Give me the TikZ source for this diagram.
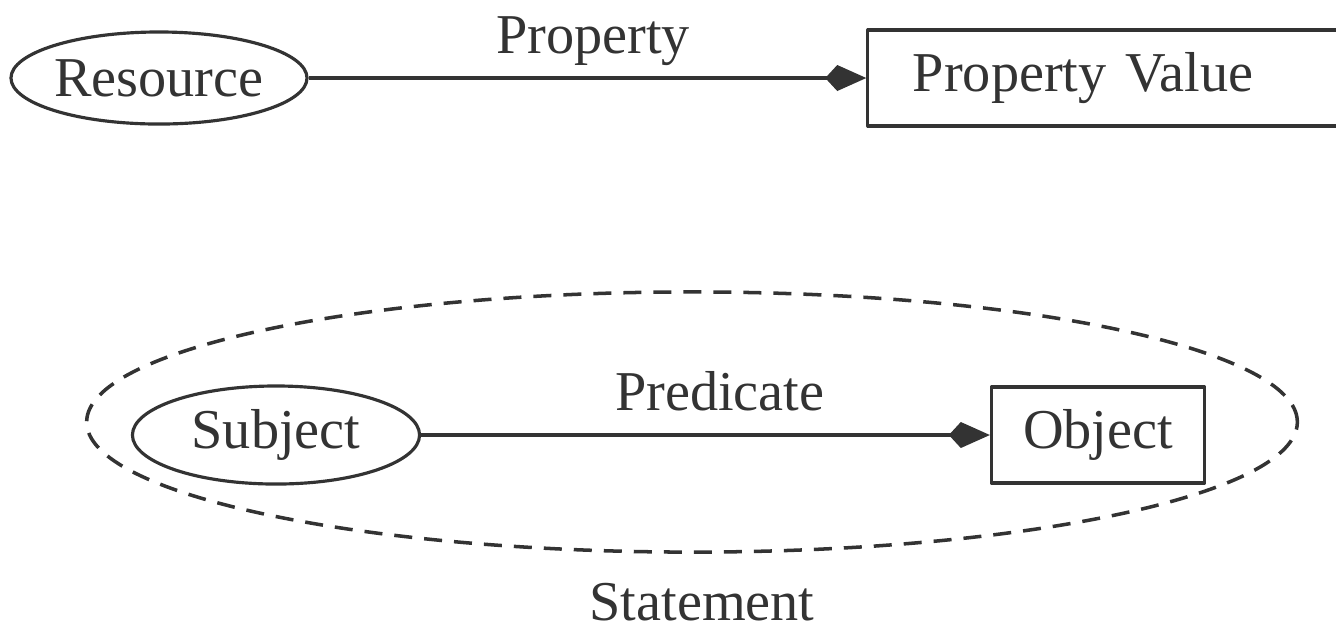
\documentclass[tikz,border=0pt]{standalone}
\usepackage{fontspec}
\setmainfont{Liberation Serif}
\usetikzlibrary{arrows.meta,shapes.geometric}
\begin{document}
\begin{tikzpicture}[x=0.01cm,y=-0.01cm,>={Kite[length=0.41cm,width=0.26cm,inset=0.12cm]},line join=round,
	font=\fontsize{16}{19}\selectfont,color=black!80,
	res/.style={draw,ellipse,line width=0.9pt,inner sep=0pt},
	val/.style={draw,rectangle,line width=0.9pt,inner sep=0pt,minimum height=0.96cm},
	lbl/.style={anchor=base,yshift=0.25cm,inner sep=0pt}]
	\useasboundingbox (0,0) rectangle (1336,629);
	\node[res,minimum width=2.88cm,minimum height=0.92cm] (resource) at (159,78) {Resource};
	\node[val,text width=3.92cm,inner xsep=0.45cm,align=left] (value) at (1109,78) {Property Value};
	\draw[->,line width=0.9pt] (resource)--(value) node[lbl,pos=0.51]{Property};
	\node[res,minimum width=2.87cm,minimum height=0.98cm] (subject) at (276,435) {Subject};
	\node[val,minimum width=2.13cm] (object) at (1098,435) {Object};
	\draw[->,line width=0.9pt] (subject)--(object) node[lbl,pos=0.525]{Predicate};
	\draw[line width=1pt,dash pattern=on 0.18cm off 0.12cm] (692,422) ellipse (6.05cm and 1.3cm);
	\node (statement) at (702,602) {Statement};
\end{tikzpicture}
\end{document}
